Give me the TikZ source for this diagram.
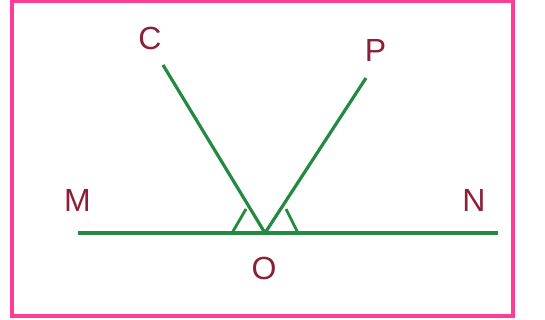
\documentclass[tikz,border=0pt]{standalone}
\usepackage{fontspec}
\setmainfont{Liberation Sans}
\begin{document}
\begin{tikzpicture}[x=1pt,y=-1pt,
  seg/.style={draw=lgreen,line width=3.2pt},
  mk/.style={draw=lgreen,line width=2.8pt},
  lbl/.style={text=lred,font=\fontsize{32}{32}\selectfont,inner sep=0pt}]
\definecolor{lgreen}{RGB}{36,138,66}
\definecolor{lred}{RGB}{140,32,56}
\definecolor{lpink}{RGB}{255,60,150}
\useasboundingbox (0,0) rectangle (545,320);
\draw[lpink,line width=3.4pt] (12,1) rectangle (513,316);
\coordinate (O) at (265,233);
\coordinate (M) at (78,233);
\coordinate (N) at (498,233);
\coordinate (C) at (163,65);
\coordinate (P) at (366,78);
\coordinate (a1) at (232,233);
\coordinate (a2) at (246,209);
\coordinate (b1) at (286,209);
\coordinate (b2) at (298,233);
\draw[seg] (M) -- (N);
\draw[seg] (O) -- (C);
\draw[seg] (O) -- (P);
\draw[mk] (a1) -- (a2);
\draw[mk] (b1) -- (b2);
\node[lbl] (lC) at (150,38.5) {C};
\node[lbl] (lP) at (375.5,50.5) {P};
\node[lbl] (lM) at (77.5,200) {M};
\node[lbl] (lN) at (474,200) {N};
\node[lbl] (lO) at (264,268.5) {O};
\end{tikzpicture}
\end{document}
